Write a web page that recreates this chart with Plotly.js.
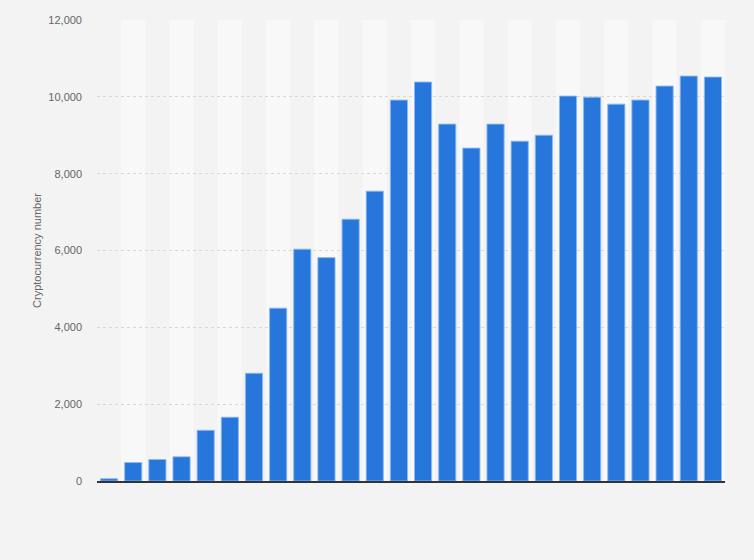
<!DOCTYPE html>
<html>
<head>
<meta charset="utf-8">
<script src="https://cdn.plot.ly/plotly-3.0.1.min.js"></script>
<style>
  html, body { margin: 0; padding: 0; background: #f3f3f3; }
  #chart { width: 754px; height: 560px; }
</style>
</head>
<body>
<div id="chart"></div>
<script>
// Periods (x-axis labels are not shown in the reference)
const categories = ["P1","P2","P3","P4","P5","P6","P7","P8","P9","P10","P11","P12","P13",
                    "P14","P15","P16","P17","P18","P19","P20","P21","P22","P23","P24","P25","P26"];
// Number of cryptocurrencies
const cryptoCount = [60, 480, 560, 630, 1320, 1660, 2805, 4500, 6035, 5815, 6815, 7545, 9915,
                     10385, 9290, 8665, 9290, 8845, 9000, 10020, 9990, 9810, 9915, 10280, 10540, 10515];
const yTicks = [0, 2000, 4000, 6000, 8000, 10000, 12000];
const yTickLabels = ["0", "2,000", "4,000", "6,000", "8,000", "10,000", "12,000"];

// alternating column stripes (every second category slot is lighter)
const shapes = categories.map((c, i) => i % 2 === 1 ? {
  type: "rect", xref: "x", yref: "paper", layer: "below",
  x0: i - 0.5, x1: i + 0.5, y0: 0, y1: 1,
  fillcolor: "#f8f8f8", line: { width: 0 }
} : null).filter(Boolean);

const trace = {
  type: "bar",
  x: categories.map((c, i) => i),
  y: cryptoCount,
  marker: { color: "#2776dc", line: { color: "rgba(140,185,240,0.9)", width: 1 } },
  hoverinfo: "y"
};

const layout = {
  width: 754, height: 560,
  margin: { l: 97, r: 29, t: 20, b: 79 },
  paper_bgcolor: "#f3f3f3",
  plot_bgcolor: "#f3f3f3",
  bargap: 0.29,
  font: { family: "Liberation Sans, Arial, sans-serif", color: "#666", size: 11 },
  shapes: shapes,
  showlegend: false,
  xaxis: {
    range: [-0.5, categories.length - 0.5],
    showticklabels: false,
    ticks: "",
    showgrid: false,
    zeroline: false,
    showline: true,
    linecolor: "#333",
    linewidth: 1.5
  },
  yaxis: {
    range: [0, 12000],
    tickvals: yTicks,
    ticktext: yTickLabels,
    ticks: "",
    ticklabelstandoff: 14,
    tickfont: { size: 11, color: "#666" },
    showgrid: true,
    gridcolor: "#d8d8d8",
    griddash: "dot",
    gridwidth: 1,
    zeroline: false,
    showline: false,
    title: { text: "Cryptocurrency number", font: { size: 11, color: "#666" }, standoff: 4 }
  }
};

Plotly.newPlot("chart", [trace], layout, { displayModeBar: false, staticPlot: true });
</script>
</body>
</html>
